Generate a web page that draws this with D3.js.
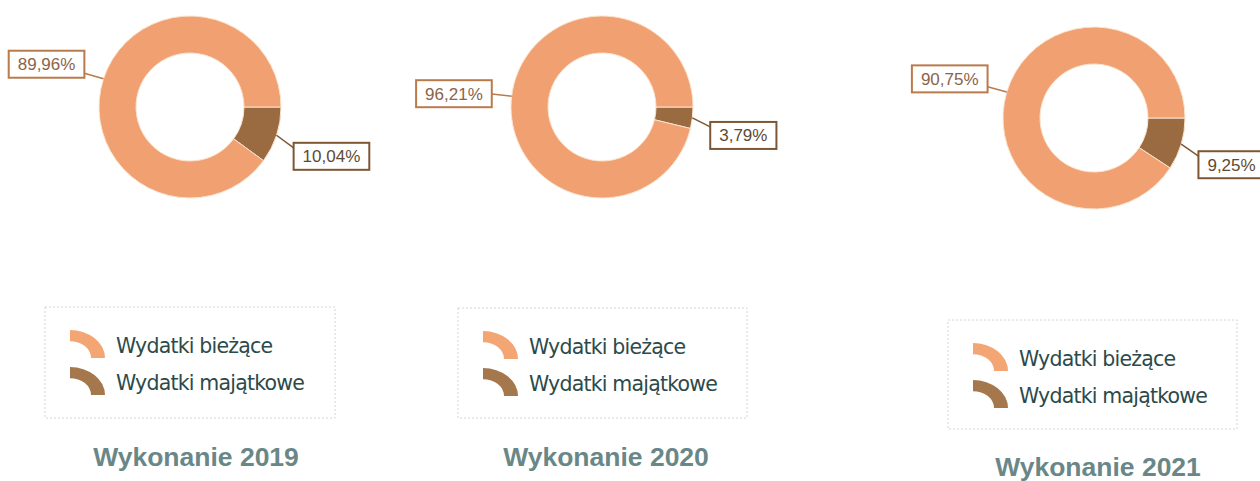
<!DOCTYPE html>
<html>
<head>
<meta charset="utf-8">
<script src="https://cdn.jsdelivr.net/npm/d3@7"></script>
<style>
  body { margin: 0; background: #fff; }
  svg { display: block; }
</style>
</head>
<body>
<svg id="chart" width="1260" height="481"></svg>
<script>
// data
const years = ["2019", "2020", "2021"]
const categories = ["Wydatki bieżące", "Wydatki majątkowe"]
const biezace = [89.96, 96.21, 90.75]
const majatkowe = [10.04, 3.79, 9.25]
const titlePrefix = "Wykonanie "

const colors = {"Wydatki bieżące": "#f1a072", "Wydatki majątkowe": "#9a6b40"}
const legendColors = {"Wydatki bieżące": "#f4a574", "Wydatki majątkowe": "#a4774c"}

// where each of the three panels sits on the page
const panels = [
  {cx: 190, cy: 107, lx: 45, ly: 307, lw: 290, lh: 111, tx: 196, ty: 466},
  {cx: 602, cy: 107, lx: 458, ly: 308, lw: 289, lh: 110, tx: 606, ty: 466},
  {cx: 1094, cy: 118, lx: 948, ly: 320, lw: 289, lh: 109, tx: 1098, ty: 476}
]
const outerR = 91, innerR = 54

const svg = d3.select("#chart")

const pie = d3.pie()
    .sort(null)
    .value(d => d.value)
    .startAngle(Math.PI / 2)//brown slice starts at 3 o'clock, goes clockwise
    .endAngle(Math.PI / 2 + 2 * Math.PI)

const arc = d3.arc().innerRadius(innerR).outerRadius(outerR)

const fmt = v => d3.format(".2f")(v).replace(".", ",") + "%"

function pointAt(angle, r) {//d3 angles: 0 at 12 o'clock, clockwise
  return [r * Math.sin(angle), -r * Math.cos(angle)]
}

years.forEach((year, i) => {
  const p = panels[i]
  // majątkowe first so it starts at 3 o'clock
  const rows = [
    {key: categories[1], value: majatkowe[i]},
    {key: categories[0], value: biezace[i]}
  ]
  const g = svg.append("g").attr("transform", `translate(${p.cx},${p.cy})`)

  const arcs = pie(rows)
  g.selectAll("path.slice")
    .data(arcs)
    .enter().append("path")
      .attr("class", "slice")
      .attr("d", arc)
      .attr("fill", d => colors[d.data.key])
      .attr("stroke", "#fbe3cc")
      .attr("stroke-width", 1)

  // data labels with leader lines
  arcs.forEach(a => {
    const mid = (a.startAngle + a.endAngle) / 2
    const p0 = pointAt(mid, outerR)
    const p1 = pointAt(mid, outerR + 18)
    const small = a.data.key === categories[1]
    const text = fmt(a.data.value)
    const boxH = 27
    const label = g.append("g")
    const t = label.append("text")
        .attr("font-family", "'Liberation Sans', Arial, sans-serif")
        .attr("font-size", 17)
        .attr("fill", small ? "#5e4a33" : "#8c6448")
        .text(text)
    const tw = t.node().getComputedTextLength()
    const boxW = tw + 18
    let bx, by, ey
    if (small) {
      bx = p1[0]
      by = p1[1] + 2
      ey = by + 5
    } else {
      const lift = 45 * Math.cos(mid) - 5
      bx = p1[0] - 2 - boxW
      by = p1[1] - lift - boxH / 2
      ey = Math.min(by + boxH - 3, Math.max(by + 3, p1[1]))
    }
    label.insert("rect", "text")
        .attr("x", bx).attr("y", by)
        .attr("width", boxW).attr("height", boxH)
        .attr("fill", "#fff")
        .attr("stroke", small ? "#7d5733" : "#b97a4c")
        .attr("stroke-width", 2)
    t.attr("x", bx + 9).attr("y", by + boxH / 2 + 6)
    g.insert("line", "g")
        .attr("x1", p0[0]).attr("y1", p0[1])
        .attr("x2", small ? bx : bx + boxW).attr("y2", ey)
        .attr("stroke", small ? "#7d5733" : "#b97a4c")
        .attr("stroke-width", 1.5)
  })

  // legend
  const lg = svg.append("g").attr("transform", `translate(${p.lx},${p.ly})`)
  lg.append("rect")
      .attr("width", p.lw).attr("height", p.lh)
      .attr("fill", "none")
      .attr("stroke", "#d4d4d4")
      .attr("stroke-width", 1)
      .attr("stroke-dasharray", "2,2")
  const symArc = d3.arc().innerRadius(21).outerRadius(35).startAngle(0).endAngle(Math.PI / 2)
  categories.forEach((c, j) => {
    const base = 46 + j * 37
    lg.append("path")
        .attr("d", symArc)
        .attr("transform", `translate(25,${base + 5}) scale(1,0.8)`)
        .attr("fill", legendColors[c])
    lg.append("text")
        .attr("x", 71).attr("y", base)
        .attr("font-family", "'DejaVu Sans', Verdana, sans-serif")
        .attr("font-size", 20.5)
        .attr("letter-spacing", -0.8)
        .attr("fill", "#2c4a4a")
        .text(c)
  })

  // title under each panel
  svg.append("text")
      .attr("x", p.tx).attr("y", p.ty)
      .attr("text-anchor", "middle")
      .attr("font-family", "'Liberation Sans', Arial, sans-serif")
      .attr("font-weight", "bold")
      .attr("font-size", 26.5)
      .attr("fill", "#6a8787")
      .text(titlePrefix + year)
})
</script>
</body>
</html>
